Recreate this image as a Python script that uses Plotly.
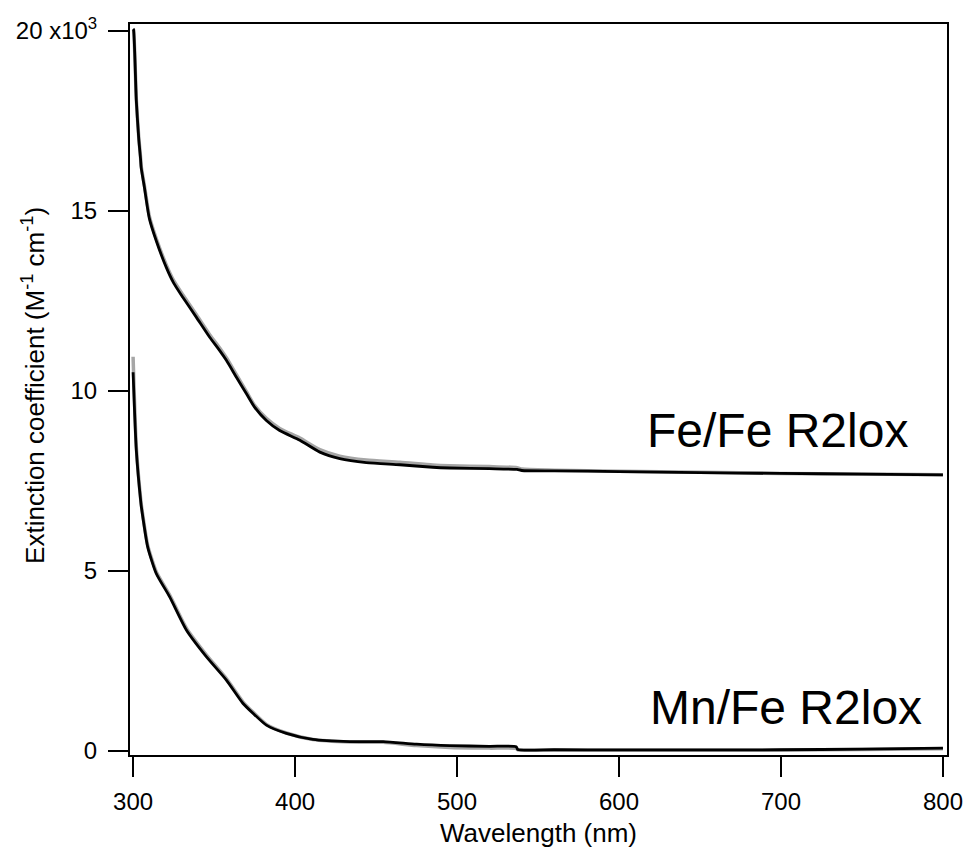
import plotly.graph_objects as go

# Fe/Fe R2lox spectra (black = sample 1, gray = sample 2), units 10^3 M^-1 cm^-1
fe_x = [300, 300.3, 302, 303.5, 304.6, 305, 307, 310, 314.3, 320.5, 325, 330.7, 339, 347.3,
        353.5, 357.6, 363.8, 370, 375, 382.3, 390.5, 403, 415.3, 427.6, 444, 464.7, 485,
        495.6, 520, 537, 540, 560, 600, 650, 700, 750, 800]
fe_black = [20.05, 20.03, 18.06, 17.0, 16.45, 16.2, 15.65, 14.8, 14.17, 13.43, 13.0, 12.6,
            12.05, 11.49, 11.12, 10.85, 10.38, 9.92, 9.55, 9.18, 8.9, 8.63, 8.3, 8.12, 8.01,
            7.95, 7.88, 7.86, 7.84, 7.82, 7.79, 7.78, 7.76, 7.73, 7.71, 7.69, 7.67]
fe_gray = [20.05, 20.03, 18.1, 17.05, 16.5, 16.25, 15.7, 14.86, 14.23, 13.5, 13.07, 12.67,
           12.12, 11.56, 11.19, 10.92, 10.45, 9.98, 9.6, 9.24, 8.96, 8.69, 8.37, 8.19, 8.08,
           8.02, 7.94, 7.92, 7.9, 7.87, 7.83, 7.8, 7.77, 7.74, 7.71, 7.69, 7.67]

# Mn/Fe R2lox spectra
mn_x = [300, 302, 304.8, 305.2, 306, 309, 314.3, 322.6, 332.9, 345.2, 357.6, 367.9, 374,
        382.3, 394.7, 411, 433.8, 454.4, 475, 495.6, 520, 536.5, 537.5, 560, 600, 650, 700,
        750, 800]
mn_black = [10.52, 8.35, 6.9, 6.75, 6.5, 5.67, 4.93, 4.28, 3.36, 2.62, 1.97, 1.32, 1.05, 0.72,
            0.49, 0.32, 0.26, 0.26, 0.19, 0.15, 0.13, 0.12, 0.04, 0.035, 0.03, 0.03, 0.035,
            0.05, 0.08]
mn_gray = [10.95, 8.45, 6.95, 6.8, 6.55, 5.72, 4.98, 4.33, 3.41, 2.67, 2.01, 1.36, 1.08, 0.74,
           0.5, 0.32, 0.25, 0.24, 0.15, 0.1, 0.08, 0.07, 0.03, 0.025, 0.02, 0.02, 0.025,
           0.04, 0.06]

y_tickvals = [0, 5, 10, 15, 20]
y_ticktext = ["0", "5", "10", "15", "20 x10<sup>3</sup>"]
x_tickvals = [300, 400, 500, 600, 700, 800]

FONT = "Liberation Sans, Arial, sans-serif"
GRAY = "#a6a6a6"

fig = go.Figure()
for x, y, c, w in [(fe_x, fe_gray, GRAY, 3.5), (mn_x, mn_gray, GRAY, 3.5),
                   (fe_x, fe_black, "black", 2.8), (mn_x, mn_black, "black", 2.8)]:
    fig.add_trace(go.Scatter(x=x, y=y, mode="lines",
                             line=dict(color=c, width=w, shape="spline", smoothing=0.6),
                             showlegend=False, hoverinfo="skip"))

fig.add_annotation(x=616, y=8.9, xref="x", yref="y", text="Fe/Fe R2lox", showarrow=False,
                   xanchor="left", yanchor="middle", font=dict(family=FONT, size=48, color="black"))
fig.add_annotation(x=618, y=1.22, xref="x", yref="y", text="Mn/Fe R2lox", showarrow=False,
                   xanchor="left", yanchor="middle", font=dict(family=FONT, size=48, color="black"))
fig.add_annotation(x=-0.119, y=0.506, xref="paper", yref="paper",
                   text="Extinction coefficient (M<sup>-1</sup> cm<sup>-1</sup>)",
                   textangle=-90, showarrow=False, xanchor="center", yanchor="middle",
                   font=dict(family=FONT, size=26, color="black"))

fig.update_layout(
    width=971, height=853,
    margin=dict(l=130, r=24, t=24, b=98),
    paper_bgcolor="white", plot_bgcolor="white",
    font=dict(family=FONT, size=24, color="black"),
    xaxis=dict(range=[298.1, 802.5], tickvals=x_tickvals, ticks="outside", ticklen=20,
               tickwidth=2, tickcolor="black", showline=True, linewidth=2, linecolor="black",
               mirror=True, showgrid=False, zeroline=False, automargin=False,
               tickfont=dict(size=24), ticklabelstandoff=4,
               title=dict(text="Wavelength (nm)", font=dict(size=26), standoff=10)),
    yaxis=dict(range=[-0.111, 20.19], tickvals=y_tickvals, ticktext=y_ticktext,
               ticks="outside", ticklen=20, tickwidth=2, tickcolor="black", showline=True,
               linewidth=2, linecolor="black", mirror=True, showgrid=False, zeroline=False,
               automargin=False, tickfont=dict(size=24), ticklabelstandoff=6),
)

fig.write_html("out.html")
